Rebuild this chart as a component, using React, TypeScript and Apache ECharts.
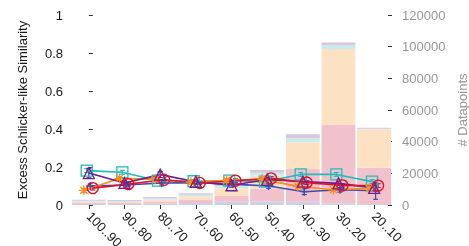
import React, { useEffect, useRef } from "react";
import * as echarts from "echarts";

const categories = ["100..90", "90..80", "80..70", "70..60", "60..50", "50..40", "40..30", "30..20", "20..10"];

// line series (left axis)
const blueVals = [0.10, 0.105, 0.116, 0.118, 0.11, 0.10, 0.07, 0.08, 0.075];
const redVals = [0.089, 0.11, 0.133, 0.116, 0.128, 0.14, 0.118, 0.103, 0.102];
const orangeVals = [0.077, 0.14, 0.135, 0.12, 0.13, 0.135, 0.098, 0.08, 0.088];
const cyanVals = [0.181, 0.172, 0.128, 0.125, 0.128, 0.123, 0.161, 0.161, 0.123];
const purpleVals = [0.168, 0.116, 0.16, 0.122, 0.104, 0.134, 0.123, 0.114, 0.09];

const blueErr = [0.012, 0.01, 0.012, 0.01, 0.01, 0.012, 0.015, 0.012, 0.045];
const redErr = [0.01, 0.01, 0.01, 0.008, 0.01, 0.01, 0.01, 0.008, 0.01];
const orangeErr = [0.01, 0.01, 0.01, 0.008, 0.008, 0.008, 0.01, 0.008, 0.01];
const cyanErr = [0.01, 0.01, 0.008, 0.008, 0.008, 0.008, 0.01, 0.01, 0.01];
const purpleErr = [0.025, 0.012, 0.015, 0.01, 0.01, 0.01, 0.012, 0.01, 0.015];

// stacked bars (right axis, # datapoints)
const barBlue = [700, 600, 1000, 1300, 2100, 2200, 2100, 1100, 600];
const barRed = [700, 600, 1200, 2200, 3600, 8300, 20600, 49500, 22900];
const barOrange = [700, 700, 1200, 2000, 4900, 8100, 17000, 48000, 24300];
const barCyan = [600, 600, 800, 900, 1200, 1800, 2500, 2300, 400];
const barPurple = [600, 600, 800, 1000, 1700, 1700, 2500, 1700, 600];

const FONT = "Liberation Sans";

const PLUS = "path://M5,0L5,10M0,5L10,5";
const STAR = "path://M5,0L5,10M0,5L10,5M1.5,1.5L8.5,8.5M1.5,8.5L8.5,1.5";

export default function App() {
  const ref = useRef<HTMLDivElement>(null);
  useEffect(() => {
    if (!ref.current) return;
    const chart = echarts.init(ref.current, null, { renderer: "svg" });

    const lineDefs = [
      { name: "cyan", vals: cyanVals, err: cyanErr, color: "#1fbcbc", symbol: "rect", size: 11, off: -0.06 },
      { name: "blue", vals: blueVals, err: blueErr, color: "#3a4fb5", symbol: PLUS, size: 8, off: 0.04 },
      { name: "orange", vals: orangeVals, err: orangeErr, color: "#ff8c1a", symbol: STAR, size: 10, off: -0.14 },
      { name: "purple", vals: purpleVals, err: purpleErr, color: "#6a1f8c", symbol: "triangle", size: 11, off: 0 },
      { name: "red", vals: redVals, err: redErr, color: "#e0112b", symbol: "circle", size: 11, off: 0.11 },
    ];

    const barDefs = [
      { vals: barBlue, color: "#ccd1e8" },
      { vals: barRed, color: "#f2c2cc" },
      { vals: barOrange, color: "#fde1c3" },
      { vals: barCyan, color: "#c6ecec" },
      { vals: barPurple, color: "#d9c6e0" },
    ];

    const series: any[] = [];
    barDefs.forEach((b, i) => {
      series.push({
        type: "bar",
        name: "bar" + i,
        stack: "n",
        xAxisIndex: 0,
        yAxisIndex: 1,
        barCategoryGap: "5%",
        data: b.vals,
        itemStyle: { color: b.color },
        z: 1,
      });
    });

    lineDefs.forEach((l) => {
      series.push({
        type: "custom",
        name: l.name + "err",
        xAxisIndex: 1,
        yAxisIndex: 0,
        z: 3,
        data: l.vals.map((v, i) => [i + l.off, v, l.err[i]]),
        renderItem: (params: any, api: any) => {
          const x = api.value(0);
          const y = api.value(1);
          const e = api.value(2);
          const top = api.coord([x, y + e]);
          const bot = api.coord([x, y - e]);
          const st = { stroke: l.color, lineWidth: 1.2 };
          return {
            type: "group",
            children: [
              { type: "line", shape: { x1: top[0], y1: top[1], x2: bot[0], y2: bot[1] }, style: st },
              { type: "line", shape: { x1: top[0] - 2.5, y1: top[1], x2: top[0] + 2.5, y2: top[1] }, style: st },
              { type: "line", shape: { x1: bot[0] - 2.5, y1: bot[1], x2: bot[0] + 2.5, y2: bot[1] }, style: st },
            ],
          };
        },
      });
      series.push({
        type: "line",
        name: l.name,
        xAxisIndex: 1,
        yAxisIndex: 0,
        z: 4,
        data: l.vals.map((v, i) => [i + l.off, v]),
        symbol: l.symbol,
        symbolSize: l.size,
        showSymbol: true,
        lineStyle: { color: l.color, width: 1.6 },
        itemStyle: { color: "transparent", borderColor: l.color, borderWidth: 1.3 },
      });
    });

    chart.setOption({
      animation: false,
      grid: { left: 71, right: 77, top: 15, bottom: 41, outerBoundsMode: "none", containLabel: false },
      xAxis: [
        {
          type: "category",
          data: categories,
          axisLine: { show: false },
          axisTick: { show: true, alignWithLabel: true, length: 4, lineStyle: { color: "#333" } },
          axisLabel: { rotate: -45, margin: 9, fontSize: 13, color: "#1a1a1a", fontFamily: FONT },
          splitLine: { show: false },
        },
        {
          type: "value",
          min: -0.5,
          max: 8.5,
          show: false,
        },
      ],
      yAxis: [
        {
          type: "value",
          min: 0,
          max: 1,
          interval: 0.2,
          name: "Excess Schlicker-like Similarity",
          nameLocation: "middle",
          nameGap: 42,
          nameTextStyle: { fontSize: 13, color: "#1a1a1a", fontFamily: FONT },
          axisLine: { show: false },
          axisTick: { show: true, inside: true, length: 4, lineStyle: { color: "#333" } },
          axisLabel: { margin: 8, fontSize: 13, color: "#1a1a1a", fontFamily: FONT },
          splitLine: { show: false },
        },
        {
          type: "value",
          min: 0,
          max: 120000,
          interval: 20000,
          position: "right",
          name: "# Datapoints",
          nameLocation: "middle",
          nameRotate: 90,
          nameGap: 61,
          nameTextStyle: { fontSize: 13, color: "#999999", fontFamily: FONT },
          axisLine: { show: false },
          axisTick: { show: true, inside: true, length: 4, lineStyle: { color: "#333" } },
          axisLabel: {
            margin: 10,
            fontSize: 13,
            color: "#999999",
            fontFamily: FONT,
            formatter: (v: number) => String(v),
          },
          splitLine: { show: false },
        },
      ],
      series,
    });
    return () => chart.dispose();
  }, []);
  return <div ref={ref} style={{ position: "fixed", left: 0, top: 0, width: 469, height: 246 }} />;
}
